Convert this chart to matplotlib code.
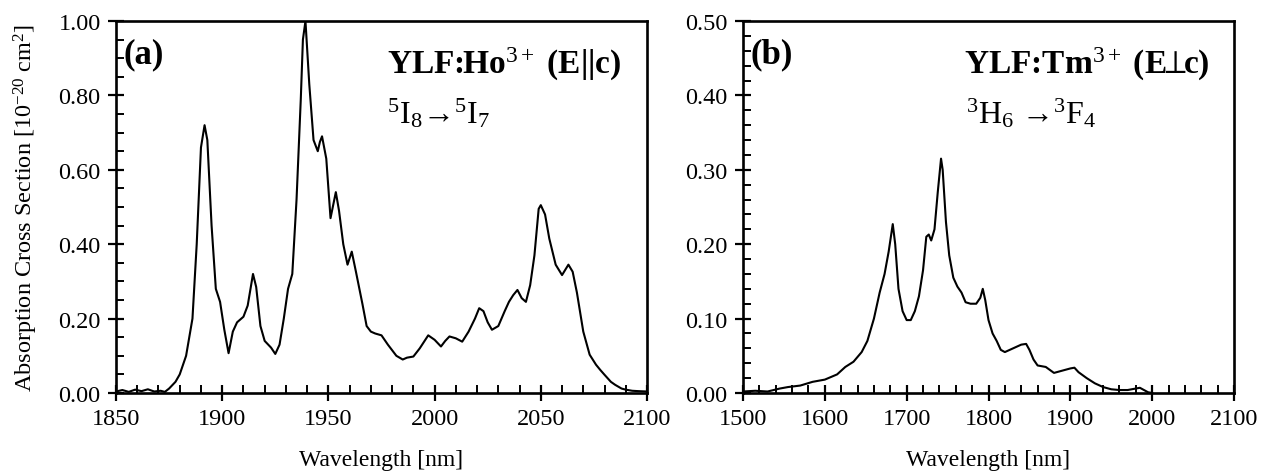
import matplotlib
matplotlib.use('Agg')
import matplotlib.pyplot as plt
from matplotlib.ticker import MultipleLocator, FormatStrFormatter

plt.rcParams['font.family'] = ['Liberation Serif', 'DejaVu Serif']
plt.rcParams['mathtext.fontset'] = 'custom'
plt.rcParams['mathtext.rm'] = 'Liberation Serif'
plt.rcParams['mathtext.it'] = 'Liberation Serif:italic'
plt.rcParams['mathtext.bf'] = 'Liberation Serif:bold'
plt.rcParams['mathtext.fallback'] = 'stix'

# (a) YLF:Ho3+ (E||c), wavelength [nm] and cross section [1e-20 cm^2]
ho_wl = [1850, 1853, 1856, 1859, 1862, 1865, 1868, 1871, 1873, 1875, 1878, 1880, 1883,
         1886, 1888, 1890, 1891.7, 1893, 1895, 1897, 1899, 1901, 1903, 1905, 1907,
         1910, 1912, 1914.5, 1916, 1918, 1920, 1923, 1925, 1927, 1929, 1931, 1933,
         1935, 1937, 1938, 1939.2, 1941, 1943, 1945, 1946, 1947, 1949, 1951, 1953.5,
         1955, 1957, 1959, 1961, 1963, 1966, 1968, 1970, 1972, 1975, 1978, 1980,
         1982, 1985, 1987, 1990, 1993, 1997, 2000, 2003, 2005, 2007, 2010, 2013,
         2016, 2019, 2021, 2023, 2025, 2027, 2030, 2033, 2035, 2037, 2039, 2041,
         2043, 2045, 2047, 2049, 2050, 2052, 2054, 2057, 2060, 2063, 2065, 2067,
         2070, 2073, 2076, 2078, 2080, 2083, 2085, 2088, 2090, 2093, 2096, 2100]
ho_cs = [0.004, 0.008, 0.003, 0.009, 0.005, 0.010, 0.004, 0.006, 0.003, 0.012, 0.030, 0.050, 0.100,
         0.200, 0.400, 0.660, 0.720, 0.680, 0.450, 0.280, 0.245, 0.170, 0.107, 0.165, 0.190,
         0.205, 0.235, 0.320, 0.285, 0.180, 0.140, 0.122, 0.105, 0.130, 0.200, 0.280, 0.320,
         0.520, 0.790, 0.950, 1.000, 0.830, 0.680, 0.650, 0.675, 0.690, 0.630, 0.470, 0.540,
         0.490, 0.400, 0.345, 0.380, 0.325, 0.240, 0.180, 0.165, 0.160, 0.155, 0.130, 0.115,
         0.100, 0.090, 0.095, 0.098, 0.120, 0.155, 0.143, 0.125, 0.140, 0.152, 0.147, 0.138,
         0.165, 0.200, 0.228, 0.220, 0.190, 0.170, 0.180, 0.220, 0.245, 0.263, 0.277, 0.255,
         0.245, 0.290, 0.370, 0.495, 0.505, 0.480, 0.415, 0.345, 0.317, 0.345, 0.326, 0.270,
         0.165, 0.103, 0.076, 0.062, 0.049, 0.030, 0.022, 0.012, 0.009, 0.006, 0.005, 0.004]

# (b) YLF:Tm3+ (E perp c)
tm_wl = [1500, 1515, 1530, 1545, 1555, 1570, 1585, 1600, 1615, 1625, 1635, 1645, 1652,
         1660, 1667, 1673, 1678, 1683, 1686, 1690, 1695, 1700, 1705, 1710, 1715, 1720,
         1724, 1727, 1730, 1734, 1738, 1742, 1744, 1748, 1752, 1757, 1762, 1767, 1772,
         1778, 1785, 1790, 1793, 1796, 1800, 1805, 1810, 1815, 1820, 1830, 1840, 1846,
         1850, 1855, 1860, 1870, 1880, 1890, 1900, 1905, 1910, 1920, 1930, 1940, 1950,
         1960, 1970, 1980, 1985, 1990, 1995, 2000]
tm_cs = [0.002, 0.003, 0.002, 0.006, 0.008, 0.010, 0.015, 0.018, 0.025, 0.035, 0.042, 0.055, 0.070,
         0.100, 0.135, 0.160, 0.190, 0.227, 0.200, 0.140, 0.110, 0.098, 0.098, 0.110, 0.130, 0.165,
         0.210, 0.213, 0.205, 0.220, 0.270, 0.315, 0.300, 0.230, 0.185, 0.155, 0.143, 0.135, 0.122,
         0.120, 0.120, 0.128, 0.140, 0.125, 0.098, 0.080, 0.070, 0.058, 0.055, 0.060, 0.065, 0.066,
         0.058, 0.045, 0.037, 0.035, 0.027, 0.030, 0.033, 0.034, 0.028, 0.020, 0.013, 0.008, 0.005,
         0.004, 0.004, 0.006, 0.007, 0.004, 0.001, 0.000]

fig = plt.figure(figsize=(12.67, 4.77), dpi=100)
ax1 = fig.add_axes([116/1267, 1-394/477, (647-116)/1267, (394-22)/477])
ax2 = fig.add_axes([743/1267, 1-394/477, (1234-743)/1267, (394-22)/477])


def style(ax, xmaj, xmin, ymaj, ymin):
    for s in ax.spines.values():
        s.set_linewidth(1.9)
    ax.xaxis.set_major_locator(MultipleLocator(xmaj))
    ax.xaxis.set_minor_locator(MultipleLocator(xmin))
    ax.yaxis.set_major_locator(MultipleLocator(ymaj))
    ax.yaxis.set_minor_locator(MultipleLocator(ymin))
    ax.yaxis.set_major_formatter(FormatStrFormatter('%.2f'))
    ax.tick_params(which='major', direction='inout', length=12, width=1.6,
                   labelsize=17.5, top=False, right=False, pad=5)
    ax.tick_params(which='minor', direction='in', length=6, width=1.4,
                   top=False, right=False)
    ax.set_xlabel('Wavelength [nm]', fontsize=17, labelpad=14)


ax1.plot(ho_wl, ho_cs, color='black', lw=1.5)
ax1.set_xlim(1850, 2100)
ax1.set_ylim(0, 1.0)
style(ax1, 50, 10, 0.2, 0.05)
ax1.set_ylabel('Absorption Cross Section [10$^{-20}$ cm$^{2}$]', fontsize=17.5, labelpad=13)
ax1.text(0.015, 0.955, '(a)', transform=ax1.transAxes, fontsize=25, fontweight='bold',
         va='top', ha='left')
ax1.text(0.51, 0.935, 'YLF:Ho$^{3+}$ (E||c)', transform=ax1.transAxes, fontsize=24,
         fontweight='bold', va='top', ha='left')
ax1.text(0.51, 0.80, '$^{5}$I$_{8}$\u2192$^{5}$I$_{7}$', transform=ax1.transAxes,
         fontsize=23, va='top', ha='left')

ax2.plot(tm_wl, tm_cs, color='black', lw=1.5)
ax2.set_xlim(1500, 2100)
ax2.set_ylim(0, 0.5)
style(ax2, 100, 20, 0.1, 0.02)
ax2.text(0.015, 0.955, '(b)', transform=ax2.transAxes, fontsize=25, fontweight='bold',
         va='top', ha='left')
ax2.text(0.45, 0.935, 'YLF:Tm$^{3+}$ (E$\\!\\!\\perp\\!\\!$c)', transform=ax2.transAxes,
         fontsize=24, fontweight='bold', va='top', ha='left')
ax2.text(0.455, 0.80, '$^{3}$H$_{6}$ \u2192$^{3}$F$_{4}$', transform=ax2.transAxes,
         fontsize=23, va='top', ha='left')

fig.savefig('out.png', dpi=100)
